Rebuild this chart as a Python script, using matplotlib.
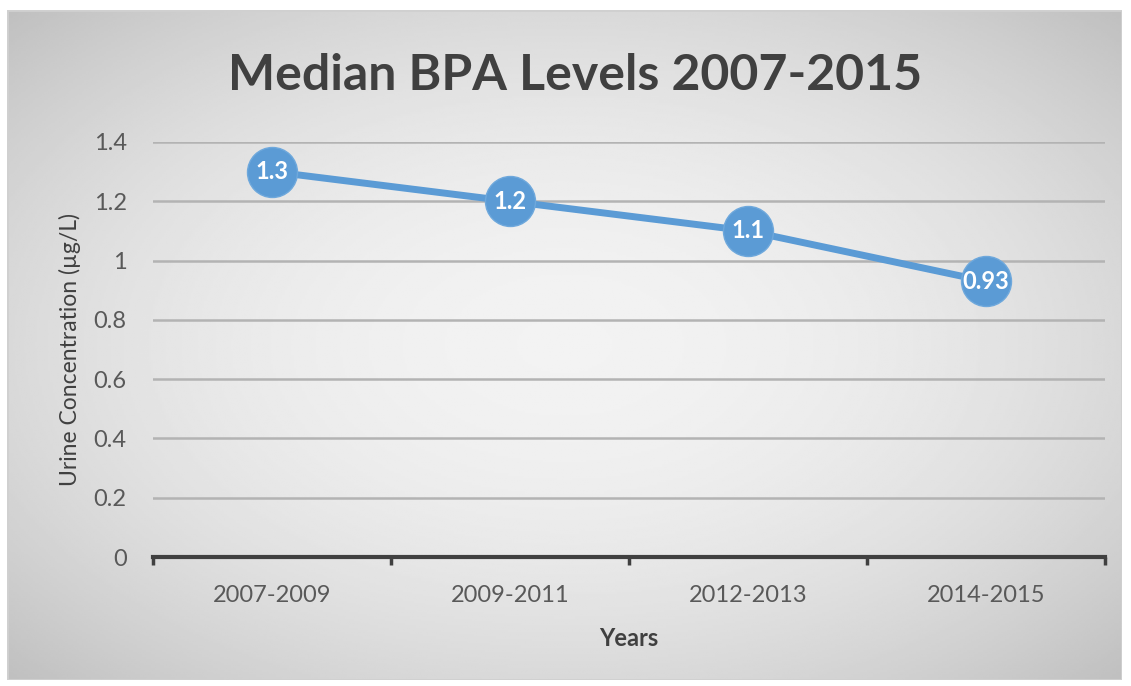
import numpy as np
import matplotlib.pyplot as plt
from matplotlib.patches import Rectangle

periods = ['2007-2009', '2009-2011', '2012-2013', '2014-2015']
median_bpa = [1.3, 1.2, 1.1, 0.93]
value_labels = ['1.3', '1.2', '1.1', '0.93']

plt.rcParams['font.family'] = ['Lato', 'DejaVu Sans']

W, H = 1131, 686
fig = plt.figure(figsize=(W / 100, H / 100), dpi=100)
fig.patch.set_facecolor('white')

# chart area with radial gradient background
x0, y0, x1, y1 = 7, 10, 1122, 680
bg = fig.add_axes([x0 / W, 1 - y1 / H, (x1 - x0) / W, (y1 - y0) / H])
yy, xx = np.mgrid[-1:1:300j, -1:1:500j]
r2 = (xx ** 2 + yy ** 2) / 2
bg.imshow(0.95 - 0.2 * r2, cmap='gray', vmin=0, vmax=1, aspect='auto',
          extent=[0, 1, 0, 1], zorder=0)
bg.add_patch(Rectangle((0, 0), 1, 1, transform=bg.transAxes, fill=False,
                       edgecolor='#d0d0d0', lw=2))
bg.set_xlim(0, 1)
bg.set_ylim(0, 1)
bg.axis('off')

ax = fig.add_axes([153 / W, 1 - 557 / H, (1105 - 153) / W, (557 - 142) / H])
ax.patch.set_alpha(0)

x = np.arange(len(periods))
ax.plot(x, median_bpa, color='#5B9BD5', lw=5, marker='o', markersize=36,
        markerfacecolor='#5B9BD5', markeredgecolor='#6ea8dc', markeredgewidth=1,
        zorder=3, solid_capstyle='round')
for xi, v, lab in zip(x, median_bpa, value_labels):
    ax.text(xi, v, lab, ha='center', va='center', color='white',
            fontsize=17, fontweight='bold', zorder=4)

ax.set_xlim(-0.5, len(periods) - 0.5)
ax.set_ylim(0, 1.4)
ax.set_yticks(np.arange(0, 1.41, 0.2))
ax.set_yticklabels(['0', '0.2', '0.4', '0.6', '0.8', '1', '1.2', '1.4'])
ax.yaxis.grid(True, color='#b3b3b3', lw=1.8)
ax.set_axisbelow(True)
ax.tick_params(axis='y', length=0, pad=19, labelsize=17, labelcolor='#595959')

ax.set_xticks(x)
ax.set_xticklabels(periods)
ax.tick_params(axis='x', length=0, pad=20, labelsize=17, labelcolor='#595959')
ax.set_xticks(np.arange(-0.5, len(periods)), minor=True)
ax.tick_params(axis='x', which='minor', length=6, width=2.5, color='#404040',
               direction='out')

for s in ['top', 'right', 'left']:
    ax.spines[s].set_visible(False)
ax.spines['bottom'].set_color('#404040')
ax.spines['bottom'].set_linewidth(3)

ax.set_ylabel('Urine Concentration (µg/L)', fontsize=16.5, color='#404040',
              labelpad=9)
ax.set_xlabel('Years', fontsize=17, fontweight='bold', color='#404040',
              labelpad=15)

fig.text(575 / W, 1 - 75 / H, 'Median BPA Levels 2007-2015', ha='center',
         va='center', fontsize=36, fontweight='bold', color='#404040')

fig.savefig('out.png', dpi=100)
